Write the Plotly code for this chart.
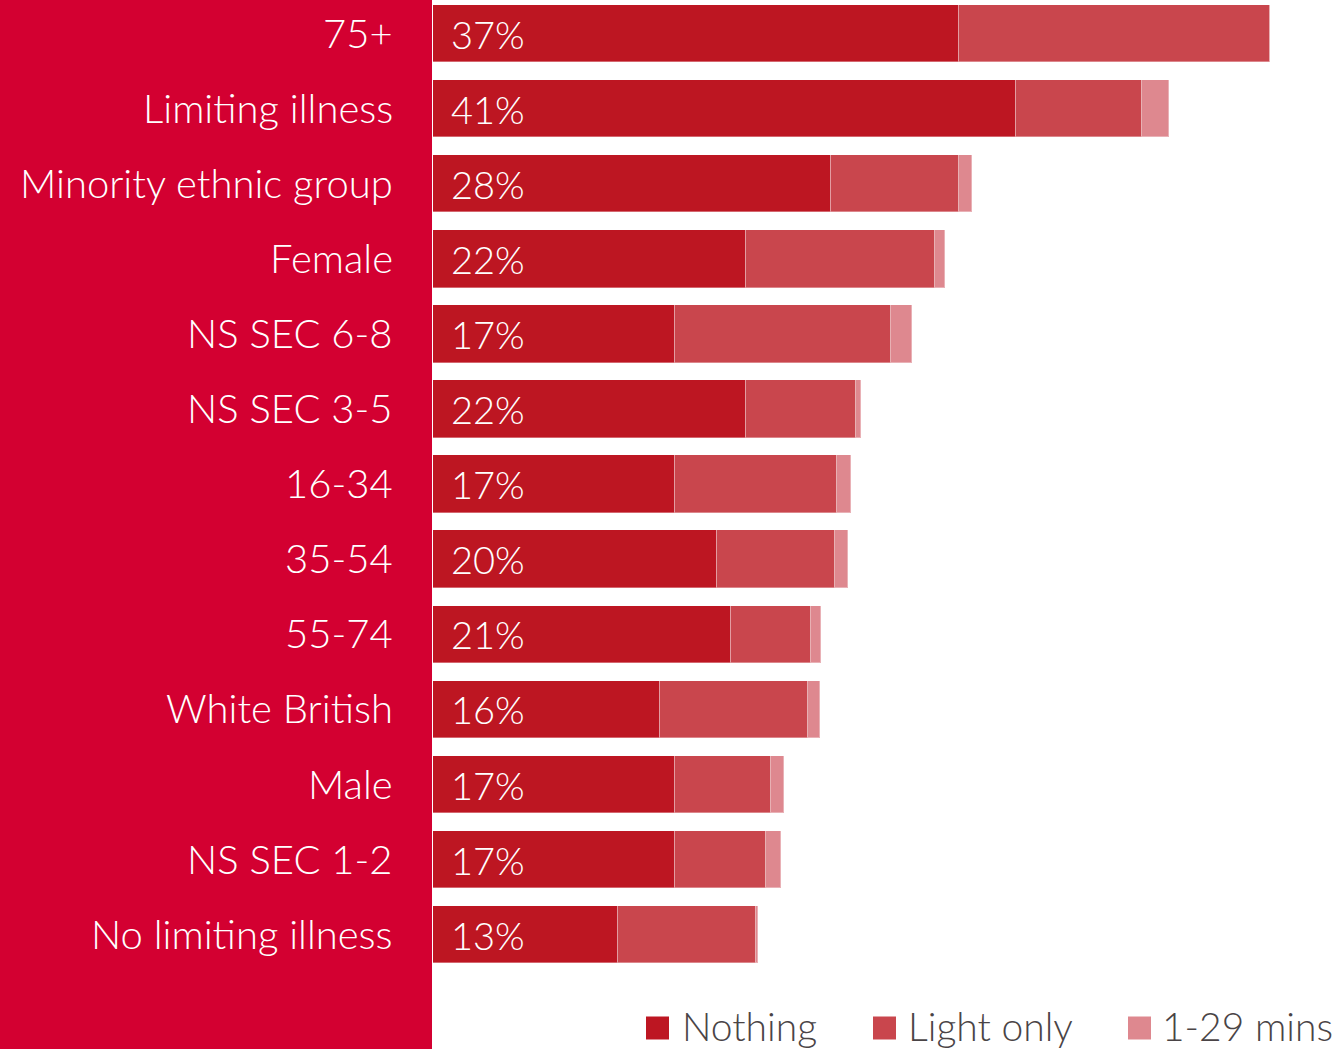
import plotly.graph_objects as go

# Groups, top to bottom
categories = [
    "75+", "Limiting illness", "Minority ethnic group", "Female",
    "NS SEC 6-8", "NS SEC 3-5", "16-34", "35-54", "55-74",
    "White British", "Male", "NS SEC 1-2", "No limiting illness",
]

# Share of each group (%) by amount of activity
nothing = [37, 41, 28, 22, 17, 22, 17, 20, 21, 16, 17, 17, 13]
light_only = [21.9, 8.9, 9.0, 13.3, 15.2, 7.8, 11.4, 8.3, 5.6, 10.4, 6.8, 6.4, 9.7]
mins_1_29 = [0.0, 1.9, 0.9, 0.75, 1.5, 0.3, 1.0, 0.87, 0.68, 0.8, 0.87, 1.1, 0.18]

series_names = ["Nothing", "Light only", "1-29 mins"]
series_colors = ["#BD1622", "#C9464D", "#DE888F"]
panel_red = "#D30031"
legend_grey = "#4A4446"
FONT = "Lato"
WEIGHT = 300
FS_CAT = 40
FS_PCT = 38
FS_LEG = 39

W, H = 1344, 1049
ML, MB = 433, 49
plot_w = W - ML
plot_h = H - MB
px_per_pct = 14.21
row_px = 75.1
first_center_px = 33.5

rows = list(range(len(categories)))

fig = go.Figure()
for name, vals, col in zip(series_names, [nothing, light_only, mins_1_29], series_colors):
    fig.add_trace(go.Bar(
        y=rows, x=vals, orientation="h", name=name,
        marker=dict(color=col, line=dict(color="rgba(255,255,255,0.35)", width=1)),
        width=0.766, showlegend=False, hoverinfo="x+name",
    ))

# Left red panel behind the group labels
fig.add_shape(type="rect", xref="paper", yref="paper",
              x0=-ML / plot_w, x1=-1 / plot_w, y0=-MB / plot_h, y1=1,
              fillcolor=panel_red, line=dict(width=0), layer="below")

annotations = []
for i, (cat, v) in enumerate(zip(categories, nothing)):
    annotations.append(dict(
        x=-38 / plot_w, xref="paper", y=i, yref="y", text=cat,
        xanchor="right", yanchor="middle", yshift=1, showarrow=False,
        font=dict(family=FONT, size=FS_CAT, color="white", weight=WEIGHT),
    ))
    annotations.append(dict(
        x=0, xref="x", y=i, yref="y", text=f"{v}%",
        xanchor="left", yanchor="middle", xshift=16, showarrow=False,
        font=dict(family=FONT, size=FS_PCT, color="white", weight=WEIGHT),
    ))

# Legend: coloured squares followed by their labels
legend_sq_x = [646, 873, 1128]
legend_txt_x = [680, 906, 1160]
sq = 23
legend_cy = 1026
for name, col, sx, tx in zip(series_names, series_colors, legend_sq_x, legend_txt_x):
    fig.add_shape(type="rect", xref="paper", yref="paper",
                  x0=(sx - ML) / plot_w, x1=(sx + sq - ML) / plot_w,
                  y0=(H - MB - (legend_cy + 2 + sq / 2)) / plot_h,
                  y1=(H - MB - (legend_cy + 2 - sq / 2)) / plot_h,
                  fillcolor=col, line=dict(width=0))
    annotations.append(dict(
        x=(tx - ML) / plot_w, xref="paper",
        y=(H - MB - legend_cy) / plot_h, yref="paper",
        text=name, xanchor="left", yanchor="middle", showarrow=False,
        font=dict(family=FONT, size=FS_LEG, color=legend_grey, weight=WEIGHT),
    ))

top = -first_center_px / row_px
bottom = top + plot_h / row_px

fig.update_layout(
    width=W, height=H,
    margin=dict(l=ML, r=0, t=0, b=MB, pad=0),
    barmode="stack", bargap=0,
    paper_bgcolor="white", plot_bgcolor="white",
    xaxis=dict(range=[0, plot_w / px_per_pct], visible=False, fixedrange=True),
    yaxis=dict(range=[bottom, top], visible=False, fixedrange=True),
    annotations=annotations,
    showlegend=False,
)

fig.write_html("out.html")
